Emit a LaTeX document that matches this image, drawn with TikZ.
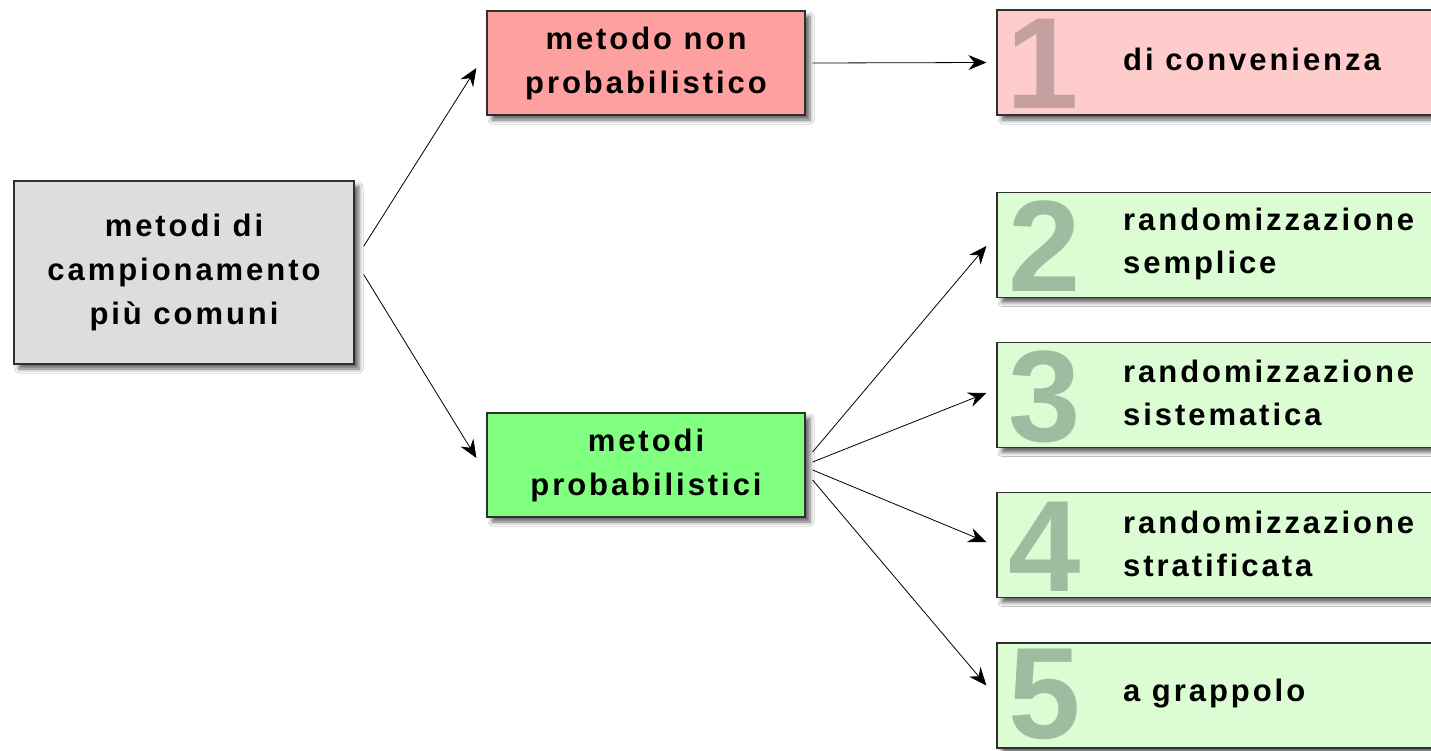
\documentclass[tikz,border=0pt]{standalone}
\usepackage{fontspec}
\newfontfamily\lblfont{Liberation Sans}[LetterSpace=9.5]
\newfontfamily\digitfont{Liberation Sans}
\usetikzlibrary{arrows.meta,shadows.blur,calc}
\definecolor{rootfill}{HTML}{DDDDDD}
\definecolor{afill}{HTML}{FFA0A0}
\definecolor{bfill}{HTML}{80FF80}
\definecolor{pinkfill}{HTML}{FFCCCC}
\definecolor{greenfill}{HTML}{DCFCD4}
\definecolor{pinkdigit}{HTML}{C4A0A0}
\definecolor{greendigit}{HTML}{A0BCA0}
\definecolor{edgecol}{HTML}{303030}
\begin{document}
\begin{tikzpicture}[x=1pt,y=-1pt,
  box/.style={draw=edgecol, line width=1.2pt, inner sep=0pt, align=center,
    blur shadow={shadow xshift=5pt, shadow yshift=-5pt, shadow blur radius=4pt, shadow opacity=60},
    font=\lblfont\bfseries\fontsize{31}{44}\selectfont},
  numbox/.style={box, minimum width=443pt, minimum height=105pt},
  lbl/.style={anchor=west, inner sep=0pt, align=left, font=\lblfont\bfseries\fontsize{31}{43}\selectfont},
  digit/.style={anchor=base west, inner sep=0pt, font=\digitfont\bfseries\fontsize{130}{130}\selectfont},
  conn/.style={line width=0.8pt, -{Stealth[length=18pt,width=15pt,inset=6pt]}}]
\useasboundingbox (0,0) rectangle (1431,750);
\fill[white] (0,0) rectangle (1431,750);

% main nodes
\node[box, fill=rootfill, minimum width=340pt, minimum height=183pt] (root) at (184,272.5)
  {metodi di\\campionamento\\più comuni};
\node[box, fill=afill, minimum width=318pt, minimum height=104pt] (A) at (646,63)
  {metodo non\\probabilistico};
\node[box, fill=bfill, minimum width=318pt, minimum height=104pt] (B) at (646,465)
  {metodi\\probabilistici};

% numbered boxes
\node[numbox, fill=pinkfill]  (n1) at (1218.5,62.5) {};
\node[numbox, fill=greenfill] (n2) at (1218.5,245) {};
\node[numbox, fill=greenfill] (n3) at (1218.5,395) {};
\node[numbox, fill=greenfill] (n4) at (1218.5,545) {};
\node[numbox, fill=greenfill] (n5) at (1218.5,695.5) {};

\node[digit, text=pinkdigit]  (d1) at (1006,108) {1};
\node[digit, text=greendigit] (d2) at (1008,291) {2};
\node[digit, text=greendigit] (d3) at (1008,441) {3};
\node[digit, text=greendigit] (d4) at (1008,591) {4};
\node[digit, text=greendigit] (d5) at (1008,738) {5};

\node[lbl] (t1) at (1123,59) {di convenienza};
\node[lbl] (t2) at (1123,244) {randomizzazione\\semplice};
\node[lbl] (t3) at (1123,393) {randomizzazione\\sistematica};
\node[lbl] (t4) at (1123,544) {randomizzazione\\stratificata};
\node[lbl] (t5) at (1123,694) {a grappolo};

% connectors
\draw[conn] ($(root.north east)+(9,66)$) -- ($(A.west)+(-10,5)$);
\draw[conn] ($(root.north east)+(9,94)$) -- ($(B.west)+(-10,-7)$);
\draw[conn] ($(A.east)+(7,0)$) -- ($(n1.west)+(-10,0)$);
\draw[conn] ($(B.east)+(7,-13)$) -- ($(n2.west)+(-10,1)$);
\draw[conn] ($(B.east)+(7,-3)$)  -- ($(n3.west)+(-10,-2)$);
\draw[conn] ($(B.east)+(7,5)$)   -- ($(n4.west)+(-10,-3)$);
\draw[conn] ($(B.east)+(7,15)$)  -- ($(n5.west)+(-10,-10)$);
\end{tikzpicture}
\end{document}
